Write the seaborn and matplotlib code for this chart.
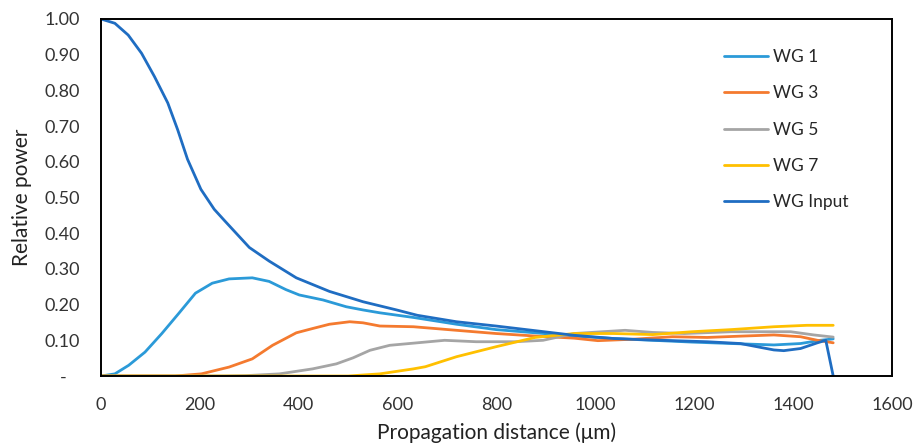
import matplotlib
matplotlib.use("Agg")
import matplotlib.pyplot as plt
import seaborn as sns
import pandas as pd

# values
wg1_x = [0, 28, 56, 89, 123, 157, 191, 225, 259, 306, 340, 374, 401, 449, 496, 530, 564, 632,
         719, 799, 878, 957, 1037, 1116, 1195, 1275, 1361, 1415, 1455, 1481]
wg1_y = [0, 0.006, 0.03, 0.067, 0.119, 0.175, 0.232, 0.26, 0.272, 0.275, 0.265, 0.242, 0.227, 0.213,
         0.194, 0.185, 0.177, 0.164, 0.145, 0.13, 0.121, 0.112, 0.105, 0.10, 0.095, 0.091, 0.087,
         0.091, 0.10, 0.104]

wg3_x = [0, 150, 203, 259, 306, 347, 395, 428, 462, 503, 530, 564, 632, 719, 799, 878, 957, 1005,
         1076, 1156, 1226, 1300, 1361, 1415, 1449, 1481]
wg3_y = [0, 0, 0.006, 0.025, 0.048, 0.086, 0.121, 0.133, 0.145, 0.152, 0.149, 0.14, 0.138, 0.128,
         0.119, 0.112, 0.106, 0.099, 0.103, 0.11, 0.108, 0.112, 0.115, 0.11, 0.10, 0.093]

wg5_x = [0, 250, 293, 361, 428, 476, 510, 544, 584, 632, 695, 759, 838, 894, 957, 1060, 1116, 1180,
         1275, 1395, 1442, 1481]
wg5_y = [0, 0, 0.001, 0.006, 0.02, 0.034, 0.051, 0.072, 0.086, 0.092, 0.10, 0.096, 0.096, 0.10,
         0.119, 0.128, 0.122, 0.119, 0.124, 0.124, 0.115, 0.109]

wg7_x = [0, 500, 564, 632, 656, 719, 799, 878, 957, 1037, 1116, 1195, 1275, 1361, 1428, 1481]
wg7_y = [0, 0, 0.006, 0.02, 0.026, 0.054, 0.082, 0.108, 0.119, 0.119, 0.116, 0.124, 0.13, 0.138,
         0.142, 0.142]

inp_x = [0, 28, 55, 82, 108, 135, 155, 175, 202, 229, 250, 300, 340, 395, 462, 530, 598, 640, 719,
         799, 878, 957, 1037, 1091, 1158, 1226, 1293, 1327, 1361, 1381, 1415, 1449, 1466, 1481]
inp_y = [1.00, 0.988, 0.955, 0.904, 0.839, 0.765, 0.69, 0.607, 0.523, 0.467, 0.435, 0.36, 0.322,
         0.275, 0.237, 0.208, 0.185, 0.17, 0.152, 0.14, 0.127, 0.114, 0.105, 0.102, 0.099, 0.096,
         0.091, 0.082, 0.073, 0.071, 0.077, 0.093, 0.100, 0.0]

names = ["WG 1", "WG 3", "WG 5", "WG 7", "WG Input"]
colors = ["#2B9AD8", "#F47A2F", "#A5A5A5", "#FFC000", "#1F6DC2"]
series = [(wg1_x, wg1_y), (wg3_x, wg3_y), (wg5_x, wg5_y), (wg7_x, wg7_y), (inp_x, inp_y)]

frames = []
for name, (xs, ys) in zip(names, series):
    frames.append(pd.DataFrame({"x": xs, "y": ys, "series": name}))
df = pd.concat(frames, ignore_index=True)

sns.set_style("white")
plt.rcParams["font.family"] = ["Lato", "DejaVu Sans"]

fig = plt.figure(figsize=(9.15, 4.48), dpi=100)
ax = fig.add_axes([0.1104, 0.1607, 0.8645, 0.7969])

sns.lineplot(data=df, x="x", y="y", hue="series", hue_order=names,
             palette=dict(zip(names, colors)), estimator=None, sort=False,
             linewidth=2.0, ax=ax)

ax.set_xlim(0, 1600)
ax.set_ylim(0, 1.0)
ax.set_xticks(range(0, 1601, 200))
yt = [i / 10 for i in range(11)]
ax.set_yticks(yt)
ax.set_yticklabels(["-   "] + [f"{v:.2f}" for v in yt[1:]])
ax.tick_params(direction="in", length=6, width=1.3, labelsize=13, pad=15,
               colors="#000000", labelcolor="#333333")

for s in ax.spines.values():
    s.set_color("black")
    s.set_linewidth(1.4)

ax.set_xlabel("Propagation distance (μm)", fontsize=15, color="#222222", labelpad=7)
ax.set_ylabel("Relative power", fontsize=15, color="#222222", labelpad=9)

ax.legend(loc="upper left", bbox_to_anchor=(0.782, 0.91), bbox_transform=fig.transFigure,
          frameon=False, fontsize=12.5, handlelength=2.5, handletextpad=0.3,
          labelspacing=1.17, borderpad=0)

fig.savefig("out.png", dpi=100)
